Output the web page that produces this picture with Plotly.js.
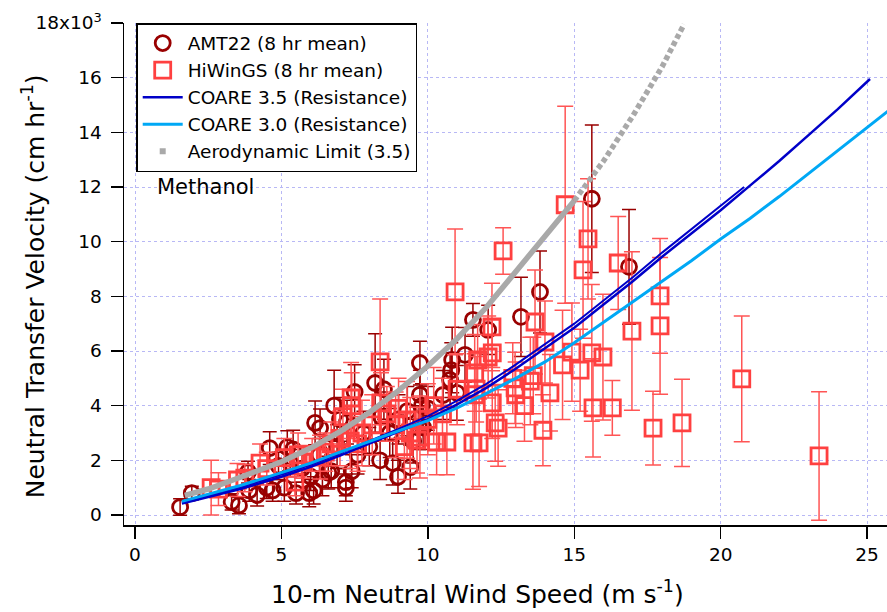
<!DOCTYPE html>
<html>
<head>
<meta charset="utf-8">
<script src="https://cdn.plot.ly/plotly-3.0.1.min.js"></script>
<style>html,body{margin:0;padding:0;background:#fff;}#chart{width:887px;height:612px;}</style>
</head>
<body>
<div id="chart"></div>
<script>
// Values of transfer velocity in units of 10^3 cm hr^-1
var amtX = [1.54,1.94,3.3,3.55,3.86,4.17,4.6,4.7,5.2,5.4,5.5,5.95,6.15,6.32,6.4,6.0,6.8,6.6,5.1,4.5,3.9,7.0,7.24,7.2,7.2,6.7,7.5,8.2,8.5,8.4,8.37,8.8,8.98,9.4,9.73,9.73,9.8,10.0,10.52,10.76,10.83,10.8,10.99,11.27,11.54,12.06,13.18,13.83,15.6,16.87,7.8,8.0,9.0,9.3,9.5,7.6,6.3,5.7,4.9,8.7,7.4,6.1,9.7,9.84,5.3,6.9];
var amtY = [0.29,0.80,0.48,0.35,1.57,0.73,2.45,0.9,2.48,2.4,0.8,0.8,3.37,3.18,1.3,1.4,4.0,1.55,1.0,1.0,0.9,3.5,3.4,1.2,1.0,1.6,4.5,4.83,4.6,3.6,2.0,1.9,1.4,1.75,5.56,4.4,4.0,3.9,4.39,4.94,5.67,5.3,4.47,5.86,7.14,6.77,7.25,8.16,11.57,9.08,3.0,2.5,3.5,3.8,2.7,2.2,2.2,1.7,1.8,3.0,1.6,0.9,3.2,3.2,1.9,2.5];
var amtErr = [0.3,0.25,0.3,0.3,0.4,0.4,0.6,0.4,0.6,0.7,0.4,0.5,0.8,0.7,0.6,0.5,1.3,0.6,0.5,0.4,0.4,0.8,0.8,0.5,0.5,0.6,1.0,1.8,1.1,0.9,0.7,0.8,0.6,0.8,0.8,0.9,0.8,0.8,0.9,1.0,1.2,1.0,1.0,1.0,0.6,0.9,1.45,1.5,2.7,2.1,0.8,0.7,0.9,0.9,0.8,0.7,0.6,0.5,0.5,0.9,0.6,0.5,0.8,0.8,0.5,0.8];

var hwX = [2.6,2.85,3.5,3.75,4.27,4.5,5.1,5.57,5.7,6.05,6.32,5.46,6.5,7.0,7.38,7.4,7.35,7.75,7.6,8.37,8.1,8.6,8.9,9.0,9.29,9.4,9.63,9.73,9.2,10.3,10.65,10.93,10.5,11.54,11.75,11.7,11.6,11.65,11.6,12.19,12.06,12.2,12.2,12.3,12.4,12.57,12.98,13.0,12.9,13.6,13.66,14.0,13.93,14.17,14.6,14.92,14.69,15.3,15.47,15.6,15.98,15.64,16.3,16.5,16.97,17.93,17.93,17.69,18.68,20.72,23.36,15.2,10.0,10.2,6.7,8.4,7.1,13.3,13.5,11.0];
var hwY = [1.0,0.95,1.28,1.35,1.9,1.7,2.1,2.2,1.94,2.2,2.12,1.2,2.3,2.8,4.28,4.0,2.7,3.0,2.6,5.6,3.3,3.7,3.3,3.9,3.48,3.0,2.74,2.85,2.5,2.67,2.67,8.16,3.7,2.64,2.64,5.67,5.2,4.6,4.4,6.88,5.78,5.93,4.1,3.37,3.18,9.66,4.65,4.4,5.0,5.1,7.06,6.33,3.1,4.47,5.49,5.96,11.35,8.97,10.1,5.93,5.78,3.92,3.92,9.22,6.73,8.02,6.92,3.18,3.37,4.98,2.16,5.3,3.5,4.0,2.6,4.1,3.6,4.0,4.9,4.6];
var hwErr = [1.0,0.6,0.6,0.5,0.7,0.6,0.7,0.8,0.6,0.6,0.8,0.5,0.7,1.0,1.3,1.2,1.0,1.2,1.0,2.3,1.1,1.0,1.2,1.1,1.4,1.3,1.2,1.5,1.2,1.2,1.2,2.3,1.3,1.7,1.6,1.3,1.4,1.2,1.5,1.6,1.5,1.2,1.3,1.4,1.4,0.85,1.3,1.2,1.3,1.4,1.9,1.5,1.3,1.4,2.0,1.8,3.6,2.5,2.2,2.5,2.3,1.8,1.0,1.7,2.9,2.1,2.5,1.35,1.6,2.3,2.35,1.5,1.3,1.4,0.8,1.1,1.0,1.3,1.6,1.3];

var c35X = [1.6,2.5,3.6,5.0,6.0,7.0,8.0,9.0,10.0,11.0,12.0,13.0,14.0,15.0,16.0,17.0,18.0,19.0,20.0,21.0,22.0,23.0,24.0,25.1];
var c35Y = [0.42,0.66,0.95,1.4,1.76,2.17,2.6,3.05,3.5,4.05,4.65,5.35,6.1,6.85,7.7,8.55,9.45,10.3,11.15,12.05,12.95,13.9,14.85,15.95];
var c35bX = [1.6,2.5,3.6,5.0,6.0,7.0,8.0,9.0,10.0,11.0,12.0,13.0,14.0,15.0,16.0,17.0,18.0,19.0,20.0,20.8];
var c35bY = [0.47,0.72,1.02,1.48,1.84,2.26,2.7,3.15,3.62,4.18,4.8,5.5,6.25,7.0,7.85,8.7,9.6,10.45,11.3,12.0];
var c30X = [1.6,2.5,3.6,5.0,6.0,7.0,8.0,9.0,10.0,11.0,12.0,13.0,14.0,15.0,16.0,17.0,18.0,19.0,20.0,21.0,22.0,23.0,24.0,25.0,25.8];
var c30Y = [0.5,0.77,1.08,1.55,1.9,2.3,2.7,3.08,3.45,3.92,4.45,5.0,5.6,6.3,7.05,7.8,8.55,9.3,10.1,10.85,11.65,12.5,13.35,14.2,14.85];
var aeroX = [1.7,2.5,3.6,5.0,6.0,7.0,8.0,9.0,10.0,11.0,12.0,13.0,14.0,15.0,16.0,17.0,18.0,18.75];
var aeroY = [0.72,0.95,1.38,1.95,2.45,3.05,3.75,4.55,5.45,6.45,7.6,8.9,10.2,11.5,12.95,14.6,16.4,17.95];

var yTickVals = [0,2,4,6,8,10,12,14,16,18];
var yTickText = ['0','2','4','6','8','10','12','14','16','18x10<sup>3</sup>'];
var xTickVals = [0,5,10,15,20,25];

var FONT = 'DejaVu Sans, sans-serif';
var amtColor = '#990000', hwColor = '#ff4040', aeroColor = '#a9a9a9';
var splitIdx = aeroX.indexOf(15.0);

var traces = [
  {x: amtX, y: amtY, type:'scatter', mode:'markers', name:'AMT22 (8 hr mean)',
   marker:{symbol:'circle-open', size:15, color:amtColor, line:{width:2.8, color:amtColor}},
   error_y:{type:'data', array: amtErr, visible:true, color:amtColor, thickness:1.5, width:7}},
  {x: hwX, y: hwY, type:'scatter', mode:'markers', name:'HiWinGS (8 hr mean)',
   marker:{symbol:'square-open', size:16, color:hwColor, line:{width:2.8, color:hwColor}},
   error_y:{type:'data', array: hwErr, visible:true, color:'#ff5555', thickness:1.5, width:8}},
  {x: c35X, y: c35Y, type:'scatter', mode:'lines', name:'COARE 3.5 (Resistance)',
   line:{color:'#0000c8', width:2.5}},
  {x: c35bX, y: c35bY, type:'scatter', mode:'lines', showlegend:false,
   line:{color:'#0000c8', width:2}},
  {x: c30X, y: c30Y, type:'scatter', mode:'lines', name:'COARE 3.0 (Resistance)',
   line:{color:'#00a8f5', width:3}},
  {x: aeroX.slice(0, splitIdx + 1), y: aeroY.slice(0, splitIdx + 1), type:'scatter', mode:'lines', showlegend:false,
   line:{color:aeroColor, width:5.5}},
  {x: aeroX.slice(splitIdx), y: aeroY.slice(splitIdx), type:'scatter', mode:'lines', showlegend:false,
   line:{color:aeroColor, width:5.5, dash:'5px,3px'}},
  {x:[null], y:[null], type:'scatter', mode:'markers', name:'Aerodynamic Limit (3.5)',
   marker:{symbol:'square', size:6, color:aeroColor}}
];

var axisCommon = {
  showline:true, linecolor:'#000', linewidth:1.5, mirror:false,
  ticks:'outside', ticklen:12, tickwidth:1.5, tickcolor:'#000',
  showgrid:true, gridcolor:'#b8b8f5', gridwidth:1, griddash:'dot',
  zeroline:false, tickfont:{family:FONT, size:18.5, color:'#000'}
};

var layout = {
  width:887, height:612,
  margin:{l:124, r:0, t:23, b:87},
  paper_bgcolor:'#fff', plot_bgcolor:'#fff',
  font:{family:FONT, color:'#000'},
  showlegend:true,
  xaxis: Object.assign({}, axisCommon, {
    range:[-0.376, 25.68], tickmode:'array', tickvals:xTickVals
  }),
  yaxis: Object.assign({}, axisCommon, {
    range:[-0.366, 18.0], tickmode:'array', tickvals:yTickVals, ticktext:yTickText,
    ticklabelstandoff:5
  }),
  legend:{x:0.016, y:1.0, xanchor:'left', yanchor:'top', bgcolor:'#fff',
    bordercolor:'#000', borderwidth:1.5, font:{family:FONT, size:18.5, color:'#000'},
    tracegroupgap:0, itemwidth:40},
  annotations:[
    {xref:'paper', yref:'paper', x:0.04, y:0.673, xanchor:'left', yanchor:'middle',
     text:'Methanol', showarrow:false, font:{family:FONT, size:21, color:'#000'}},
    {xref:'paper', yref:'paper', x:0.463, y:-0.135, xanchor:'center', yanchor:'middle',
     text:'10-m Neutral Wind Speed (m s<sup>-1</sup>)', showarrow:false,
     font:{family:FONT, size:25, color:'#000'}},
    {xref:'paper', yref:'paper', x:-0.119, y:0.476, xanchor:'center', yanchor:'middle',
     textangle:-90, text:'Neutral Transfer Velocity (cm hr<sup>-1</sup>)', showarrow:false,
     font:{family:FONT, size:25, color:'#000'}}
  ]
};

Plotly.newPlot('chart', traces, layout, {staticPlot:true, displayModeBar:false});
</script>
</body>
</html>
